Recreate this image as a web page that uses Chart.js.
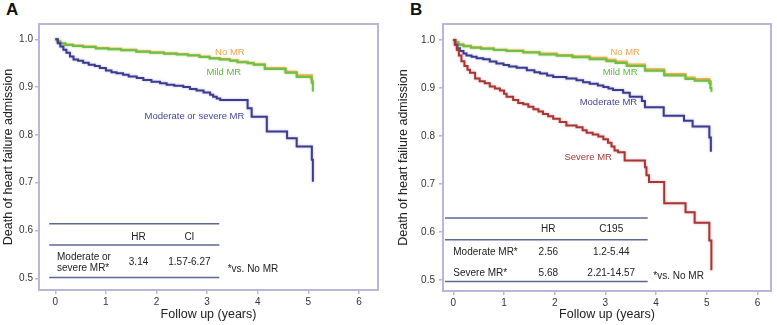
<!DOCTYPE html>
<html>
<head>
<meta charset="utf-8">
<script src="https://cdn.jsdelivr.net/npm/chart.js@4.4.0/dist/chart.umd.min.js"></script>
<style>
  body { margin: 0; background: #fff; }
  #wrap { position: relative; width: 777px; height: 325px; font-family: "Liberation Sans", Arial, sans-serif; }
  .panel { position: absolute; top: 0; height: 325px; }
  .letter { position: absolute; top: 0; font-weight: bold; font-size: 17px; color: #111; }
</style>
</head>
<body>
<div id="wrap">
  <div class="letter" style="left:6px">A</div>
  <div class="letter" style="left:410px">B</div>
  <div class="panel" style="left:0;width:390px"><canvas id="chartA"></canvas></div>
  <div class="panel" style="left:390px;width:387px"><canvas id="chartB"></canvas></div>
</div>
<script>
// Axis ticks
const xTicks = [0, 1, 2, 3, 4, 5, 6];
const yTicks = [0.5, 0.6, 0.7, 0.8, 0.9, 1.0];

// Panel A: Kaplan-Meier curves (years, survival free of death/HF admission)
const aNames = ['No MR', 'Mild MR', 'Moderate or severe MR'];
const aNoTime = [0, 0.04, 0.10, 0.20, 0.35, 0.55, 0.80, 1.05, 1.30, 1.60, 1.87, 2.15, 2.40, 2.62, 2.85, 3.05, 3.25, 3.45, 3.60, 3.80, 3.92, 4.14, 4.55, 4.77, 5.07, 5.09];
const aNoSurv = [1, 0.996, 0.992, 0.989, 0.987, 0.985, 0.982, 0.980, 0.978, 0.975, 0.973, 0.971, 0.969, 0.967, 0.964, 0.961, 0.959, 0.956, 0.953, 0.951, 0.948, 0.940, 0.932, 0.925, 0.913, 0.905];
const aMildTime = [0, 0.04, 0.10, 0.20, 0.35, 0.55, 0.80, 1.05, 1.30, 1.60, 1.87, 2.15, 2.40, 2.62, 2.85, 3.05, 3.25, 3.45, 3.60, 3.80, 3.92, 4.14, 4.55, 4.77, 5.06, 5.07, 5.09];
const aMildSurv = [1, 0.995, 0.991, 0.988, 0.986, 0.984, 0.981, 0.979, 0.977, 0.974, 0.972, 0.970, 0.968, 0.966, 0.963, 0.960, 0.958, 0.955, 0.952, 0.950, 0.947, 0.938, 0.930, 0.921, 0.917, 0.909, 0.891];
const aModTime = [0, 0.05, 0.10, 0.16, 0.22, 0.29, 0.36, 0.45, 0.55, 0.66, 0.78, 0.88, 1.00, 1.11, 1.21, 1.34, 1.45, 1.61, 1.74, 1.90, 2.07, 2.20, 2.35, 2.53, 2.66, 2.79, 2.93, 3.06, 3.12, 3.19, 3.26, 3.80, 3.88, 4.18, 4.58, 4.77, 5.07, 5.09];
const aModSurv = [1, 0.992, 0.985, 0.978, 0.972, 0.964, 0.958, 0.955, 0.951, 0.947, 0.944, 0.940, 0.935, 0.931, 0.929, 0.926, 0.922, 0.919, 0.915, 0.911, 0.908, 0.905, 0.903, 0.900, 0.896, 0.893, 0.889, 0.884, 0.880, 0.876, 0.873, 0.856, 0.838, 0.807, 0.793, 0.776, 0.748, 0.702];

// Panel B
const bNames = ['No MR', 'Mild MR', 'Moderate MR', 'Severe MR'];
const bNoTime = [0, 0.04, 0.10, 0.20, 0.35, 0.55, 0.80, 1.05, 1.38, 1.70, 2.04, 2.35, 2.69, 3.02, 3.20, 3.42, 3.78, 4.16, 4.58, 4.76, 5.05, 5.08];
const bNoSurv = [1, 0.996, 0.991, 0.988, 0.985, 0.983, 0.980, 0.978, 0.975, 0.972, 0.969, 0.966, 0.963, 0.959, 0.955, 0.949, 0.939, 0.929, 0.922, 0.919, 0.914, 0.905];
const bMildTime = [0, 0.04, 0.10, 0.20, 0.35, 0.55, 0.80, 1.05, 1.38, 1.70, 2.04, 2.35, 2.69, 3.02, 3.20, 3.42, 3.78, 4.16, 4.58, 4.76, 5.05, 5.07, 5.09];
const bMildSurv = [1, 0.995, 0.990, 0.987, 0.984, 0.982, 0.979, 0.977, 0.974, 0.970, 0.967, 0.964, 0.960, 0.956, 0.952, 0.946, 0.936, 0.926, 0.919, 0.915, 0.910, 0.900, 0.892];
const bModTime = [0, 0.04, 0.08, 0.13, 0.20, 0.26, 0.36, 0.46, 0.59, 0.72, 0.85, 0.99, 1.10, 1.25, 1.45, 1.60, 1.71, 1.85, 1.97, 2.23, 2.43, 2.56, 2.69, 2.85, 2.96, 3.06, 3.15, 3.35, 3.48, 3.72, 3.78, 4.15, 4.55, 4.72, 5.05, 5.08];
const bModSurv = [1, 0.990, 0.983, 0.977, 0.972, 0.968, 0.965, 0.962, 0.960, 0.955, 0.951, 0.948, 0.945, 0.942, 0.937, 0.933, 0.930, 0.926, 0.923, 0.920, 0.916, 0.912, 0.909, 0.905, 0.902, 0.899, 0.896, 0.890, 0.882, 0.873, 0.860, 0.842, 0.832, 0.820, 0.797, 0.767];
const bSevTime = [0, 0.03, 0.07, 0.11, 0.16, 0.22, 0.28, 0.33, 0.43, 0.52, 0.62, 0.72, 0.82, 0.92, 1.00, 1.05, 1.18, 1.28, 1.38, 1.48, 1.58, 1.68, 1.77, 1.87, 1.97, 2.10, 2.23, 2.43, 2.55, 2.63, 2.75, 2.86, 2.96, 3.05, 3.12, 3.18, 3.25, 3.38, 3.78, 3.81, 3.86, 4.16, 4.58, 4.76, 5.05, 5.09];
const bSevSurv = [1, 0.990, 0.979, 0.968, 0.956, 0.946, 0.938, 0.932, 0.920, 0.914, 0.910, 0.903, 0.899, 0.895, 0.888, 0.882, 0.875, 0.869, 0.866, 0.861, 0.856, 0.851, 0.846, 0.841, 0.836, 0.829, 0.822, 0.818, 0.812, 0.807, 0.803, 0.799, 0.793, 0.786, 0.778, 0.770, 0.766, 0.749, 0.735, 0.718, 0.704, 0.660, 0.641, 0.619, 0.582, 0.520];

// Hazard ratio tables
const aTableHead = ['HR', 'CI'];
const aTableRows = [['Moderate or\nsevere MR*', '3.14', '1.57-6.27']];
const bTableHead = ['HR', 'C195'];
const bTableRows = [['Moderate MR*', '2.56', '1.2-5.44'], ['Severe MR*', '5.68', '2.21-14.57']];
const footNote = '*vs. No MR';

const fontFamily = '"Liberation Sans", Arial, sans-serif';
const frameColor = '#b7b7da';
const ruleColor = '#5b6894';
const colors = { no: '#f0ad4e', mild: '#6cc043', mod: '#3c3c8e', sev: '#a83636' };
const haloColors = { no: 'rgba(240,173,78,0.45)', mild: 'rgba(108,192,67,0.45)', mod: 'rgba(120,120,200,0.55)', sev: 'rgba(210,110,110,0.55)' };
const textColors = { no: '#e9a54a', mild: '#5cb83c', mod: '#45459a', sev: '#a33a3a' };

const toPoints = (t, s) => t.map((v, i) => ({ x: v, y: s[i] }));

const curve = (label, t, s, key, order) => ({
    label, data: toPoints(t, s), borderColor: colors[key], halo: haloColors[key], borderWidth: 2,
    pointRadius: 0, stepped: true, fill: false, order
});

// soft pale outline round each curve, like the scanned figure
const haloPlugin = {
    id: 'halo',
    beforeDatasetDraw(chart, args) {
        const ctx = chart.ctx;
        ctx.save();
        ctx.shadowColor = args.meta._dataset.halo;
        ctx.shadowBlur = 2.5;
    },
    afterDatasetDraw(chart) {
        chart.ctx.restore();
    }
};

// frame, curve labels and the HR table
const notesPlugin = {
    id: 'kmNotes',
    afterDatasetsDraw(chart, args, o) {
        const { ctx, chartArea: a, scales: { x, y } } = chart;
        const px = v => x.getPixelForValue(v);
        const py = v => y.getPixelForValue(v);
        ctx.save();
        ctx.strokeStyle = frameColor;
        ctx.lineWidth = 2;
        ctx.strokeRect(a.left, a.top, a.right - a.left, a.bottom - a.top);

        ctx.textBaseline = 'middle';
        ctx.textAlign = 'center';
        ctx.font = '9.5px ' + fontFamily;
        o.labels.forEach(l => {
            ctx.fillStyle = l.color;
            ctx.fillText(l.text, px(l.x), py(l.y));
        });

        const t = o.table;
        ctx.strokeStyle = ruleColor;
        ctx.lineWidth = 1.5;
        t.ruleY.forEach(v => {
            ctx.beginPath();
            ctx.moveTo(px(t.ruleX[0]), py(v));
            ctx.lineTo(px(t.ruleX[1]), py(v));
            ctx.stroke();
        });
        ctx.fillStyle = '#222';
        ctx.font = '10px ' + fontFamily;
        t.head.forEach((h, i) => ctx.fillText(h, px(t.colX[i + 1]), py(t.headY)));
        t.rows.forEach((r, j) => {
            r.forEach((cell, i) => {
                ctx.textAlign = i === 0 ? 'left' : 'center';
                const lines = cell.split('\n');
                lines.forEach((ln, k) => {
                    const off = (k - (lines.length - 1) / 2) * 10.5;
                    ctx.fillText(ln, px(t.colX[i]), py(t.rowY[j]) + off);
                });
            });
        });
        ctx.textAlign = 'left';
        ctx.fillText(footNote, px(t.noteX), py(t.noteY));
        ctx.restore();
    }
};

const makeChart = (id, datasets, p) => new Chart(document.getElementById(id), {
    type: 'line',
    data: { datasets },
    options: {
        responsive: true,
        maintainAspectRatio: false,
        animation: false,
        layout: { padding: { left: 0, right: p.padRight, top: 24, bottom: 0 } },
        plugins: { legend: { display: false }, tooltip: { enabled: false }, kmNotes: p.notes },
        scales: {
            x: {
                type: 'linear', min: p.xMin, max: p.xMax,
                afterBuildTicks: s => { s.ticks = xTicks.map(v => ({ value: v })); },
                afterFit: s => { s.height = p.xHeight; },
                ticks: { color: '#333', font: { size: 10, family: fontFamily }, padding: 2, maxRotation: 0, autoSkip: false },
                grid: { drawOnChartArea: false, tickLength: 4, color: frameColor, lineWidth: 1.5 },
                border: { display: false },
                title: { display: true, text: 'Follow up (years)', color: '#222', font: { size: 12.5, family: fontFamily }, padding: { top: 0, bottom: 3 } }
            },
            y: {
                type: 'linear', min: p.yMin, max: p.yMax,
                afterBuildTicks: s => { s.ticks = yTicks.map(v => ({ value: v })); },
                afterFit: s => { s.width = p.yWidth; },
                ticks: { color: '#333', font: { size: 10, family: fontFamily }, padding: p.yTickPad, callback: v => v.toFixed(1) },
                grid: { drawOnChartArea: false, tickLength: 4, color: frameColor, lineWidth: 1.5 },
                border: { display: false },
                title: { display: true, text: 'Death of heart failure admission', color: '#222', font: { size: 12.5, family: fontFamily }, padding: { top: p.yTitlePad, bottom: 0 } }
            }
        }
    },
    plugins: [haloPlugin, notesPlugin]
});

makeChart('chartA', [
    curve(aNames[2], aModTime, aModSurv, 'mod', 0),
    curve(aNames[1], aMildTime, aMildSurv, 'mild', 1),
    curve(aNames[0], aNoTime, aNoSurv, 'no', 2)
], {
    xMin: -0.322, xMax: 6.377, yMin: 0.4757, yMax: 1.032,
    padRight: 12, xHeight: 35, yWidth: 39, yTickPad: 2, yTitlePad: 1,
    notes: {
        labels: [
            { text: aNames[0], x: 3.45, y: 0.973, color: textColors.no },
            { text: aNames[1], x: 3.33, y: 0.931, color: textColors.mild },
            { text: aNames[2], x: 2.75, y: 0.839, color: textColors.mod }
        ],
        table: {
            head: aTableHead, rows: aTableRows,
            ruleX: [-0.12, 3.24], ruleY: [0.614, 0.570, 0.502],
            colX: [0.034, 1.645, 2.65], headY: 0.587, rowY: [0.533],
            noteX: 3.407, noteY: 0.519
        }
    }
});

makeChart('chartB', [
    curve(bNames[3], bSevTime, bSevSurv, 'sev', 0),
    curve(bNames[2], bModTime, bModSurv, 'mod', 1),
    curve(bNames[1], bMildTime, bMildSurv, 'mild', 2),
    curve(bNames[0], bNoTime, bNoSurv, 'no', 3)
], {
    xMin: -0.203, xMax: 6.266, yMin: 0.477, yMax: 1.0334,
    padRight: 6, xHeight: 34, yWidth: 53, yTickPad: 4, yTitlePad: 6,
    notes: {
        labels: [
            { text: bNames[0], x: 3.39, y: 0.974, color: textColors.no },
            { text: bNames[1], x: 3.29, y: 0.933, color: textColors.mild },
            { text: bNames[2], x: 3.06, y: 0.870, color: textColors.mod },
            { text: bNames[3], x: 2.66, y: 0.756, color: textColors.sev }
        ],
        table: {
            head: bTableHead, rows: bTableRows,
            ruleX: [-0.164, 3.834], ruleY: [0.629, 0.584, 0.497],
            colX: [0.0, 1.874, 3.115], headY: 0.605, rowY: [0.558, 0.514],
            noteX: 3.945, noteY: 0.507
        }
    }
});
</script>
</body>
</html>
